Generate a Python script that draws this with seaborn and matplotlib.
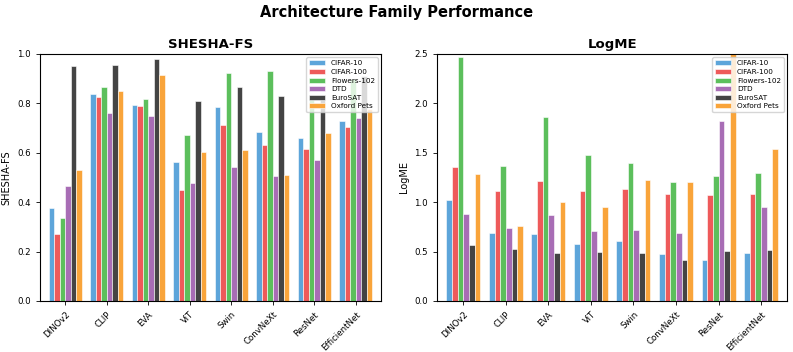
import pandas as pd
import matplotlib
matplotlib.use("Agg")
import matplotlib.pyplot as plt
import seaborn as sns

# --- Data ---
ARCHS = ["DINOv2", "CLIP", "EVA", "ViT", "Swin", "ConvNeXt", "ResNet", "EfficientNet"]
DATASETS = ["CIFAR-10", "CIFAR-100", "Flowers-102", "DTD", "EuroSAT", "Oxford Pets"]
COLORS = ["#5da5da", "#ee5a5a", "#5cbf5c", "#a86db5", "#444444", "#f9a43a"]

shesha_cifar10 = [0.376, 0.837, 0.792, 0.561, 0.784, 0.683, 0.660, 0.729]
shesha_cifar100 = [0.270, 0.826, 0.788, 0.449, 0.714, 0.632, 0.615, 0.702]
shesha_flowers = [0.335, 0.864, 0.818, 0.671, 0.924, 0.932, 0.818, 0.900]
shesha_dtd = [0.466, 0.761, 0.749, 0.476, 0.542, 0.507, 0.569, 0.740]
shesha_eurosat = [0.950, 0.953, 0.978, 0.808, 0.864, 0.829, 0.834, 0.910]
shesha_pets = [0.529, 0.850, 0.915, 0.602, 0.611, 0.511, 0.679, 0.778]

logme_cifar10 = [1.02, 0.683, 0.673, 0.579, 0.602, 0.471, 0.417, 0.488]
logme_cifar100 = [1.36, 1.117, 1.212, 1.114, 1.134, 1.081, 1.067, 1.084]
logme_flowers = [2.467, 1.367, 1.858, 1.478, 1.394, 1.202, 1.269, 1.293]
logme_dtd = [0.879, 0.740, 0.869, 0.707, 0.717, 0.687, 1.821, 0.950]
logme_eurosat = [0.569, 0.525, 0.485, 0.495, 0.488, 0.414, 0.505, 0.511]
logme_pets = [1.283, 0.757, 1.000, 0.953, 1.228, 1.208, 2.60, 1.538]


def to_long(series):
    rows = []
    for ds, vals in zip(DATASETS, series):
        for arch, v in zip(ARCHS, vals):
            rows.append({"arch": arch, "dataset": ds, "value": v})
    return pd.DataFrame(rows)


shesha_df = to_long([shesha_cifar10, shesha_cifar100, shesha_flowers,
                     shesha_dtd, shesha_eurosat, shesha_pets])
logme_df = to_long([logme_cifar10, logme_cifar100, logme_flowers,
                    logme_dtd, logme_eurosat, logme_pets])

fig = plt.figure(figsize=(7.93, 3.52), dpi=100)
ax1 = fig.add_axes([0.050, 0.145, 0.431, 0.702])
ax2 = fig.add_axes([0.551, 0.145, 0.442, 0.702])

panels = [
    (ax1, shesha_df, "SHESHA-FS", (0, 1.0)),
    (ax2, logme_df, "LogME", (0, 2.5)),
]

for ax, df, name, ylim in panels:
    sns.barplot(data=df, x="arch", y="value", hue="dataset", order=ARCHS,
                hue_order=DATASETS, palette=COLORS, saturation=1,
                edgecolor="white", linewidth=0.4, width=0.8, ax=ax)
    ax.set_ylim(*ylim)
    ax.set_xlim(-0.62, 7.62)
    ax.set_title(name, fontsize=9.5, fontweight="bold", pad=4)
    ax.set_ylabel(name, fontsize=7)
    ax.set_xlabel("")
    ax.tick_params(axis="both", labelsize=6.2, length=3, width=0.6)
    plt.setp(ax.get_xticklabels(), rotation=45, ha="right", rotation_mode="anchor")
    for s in ax.spines.values():
        s.set_linewidth(0.8)
    ax.legend(loc="upper right", fontsize=5.2, frameon=True, handlelength=2.2,
              borderpad=0.4, labelspacing=0.35, framealpha=0.8)

fig.suptitle("Architecture Family Performance", fontsize=10.5,
             fontweight="bold", y=0.985)

fig.savefig("out.png", dpi=100)
